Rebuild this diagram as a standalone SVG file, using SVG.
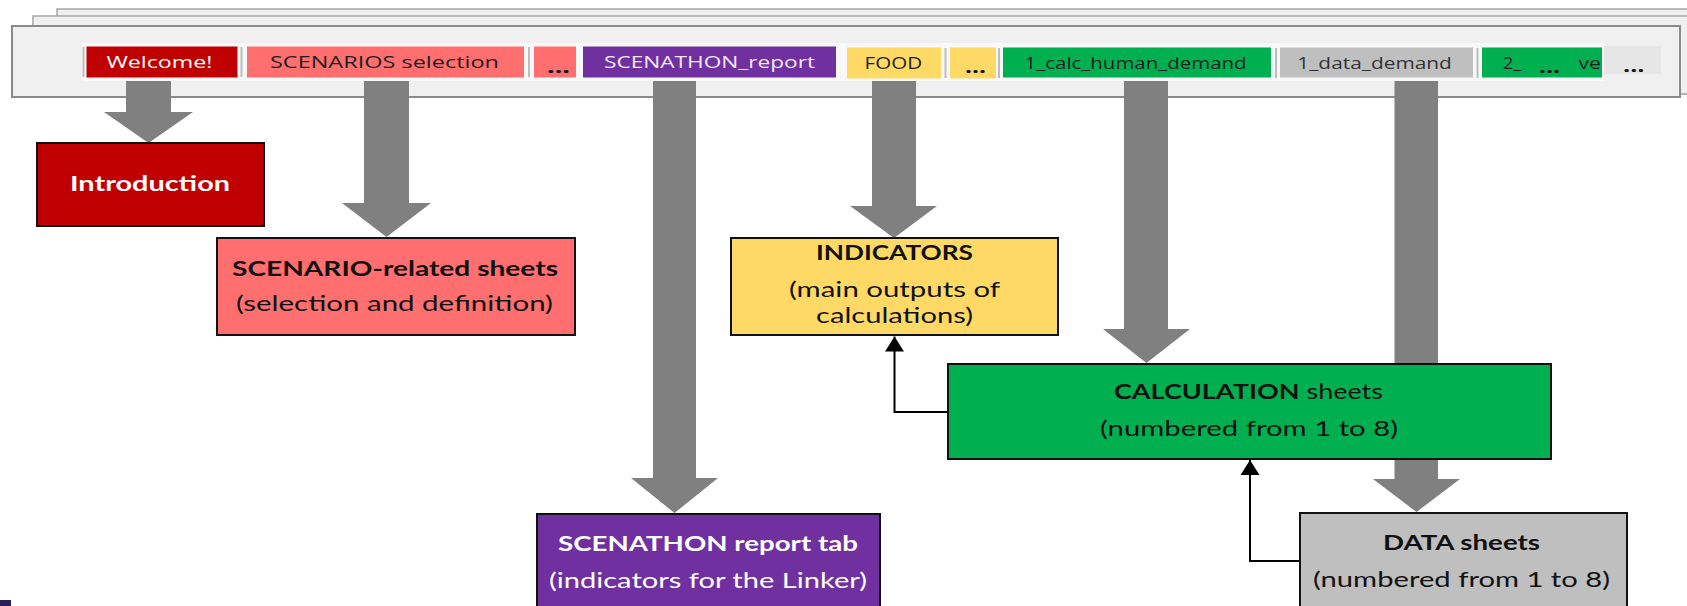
<svg xmlns="http://www.w3.org/2000/svg" width="1687" height="606" viewBox="0 0 1687 606">
<style>
.sheet{fill:#F0F0F0;stroke:#A6A6A6;stroke-width:1.5}
.win{fill:#F0F0F0;stroke:#8A8A8A;stroke-width:2}
.strip{fill:#F8F8F8}
.sep{stroke:#BDBDBD;stroke-width:2}
.tt{font-family:"Open Sans","DejaVu Sans",sans-serif;font-size:17px}
.dk{fill:#1E1E1E}
.wt{fill:#FFFFFF}
.dots{font-family:"Open Sans","DejaVu Sans",sans-serif;font-size:18px;font-weight:700;fill:#111111}
.blk{fill:#808080}
.box{stroke:#111111;stroke-width:2}
.bt{font-family:Lato,"Open Sans",sans-serif;font-size:21px;fill:#111111}
.b{font-weight:700}
.link{fill:none;stroke:#000000;stroke-width:2}
</style>
<defs>
<marker id="tri" viewBox="0 0 15 19" refX="15" refY="9.5" markerWidth="15" markerHeight="19" markerUnits="userSpaceOnUse" orient="auto">
<path d="M0,0 L15,9.5 L0,19 Z" fill="#000000"/>
</marker>
</defs>

<!-- workbook window with stacked sheets behind -->
<g id="workbook">
<rect class="sheet" x="57" y="9" width="1700" height="85"/>
<rect class="sheet" x="33" y="16" width="1700" height="78"/>
<rect class="win" x="12" y="26" width="1668" height="71"/>
<rect class="strip" x="82" y="43" width="1522" height="38"/>
</g>

<!-- sheet tabs -->
<g id="tabs">
<line class="sep" x1="83.5" y1="47" x2="83.5" y2="77"/>
<rect x="86.5" y="46.5" width="151" height="31" fill="#C00000"/>
<text class="tt wt" x="106.4" y="68" textLength="106" lengthAdjust="spacingAndGlyphs">Welcome!</text>
<line class="sep" x1="241.5" y1="47" x2="241.5" y2="77"/>
<rect x="247" y="46.5" width="277" height="31" fill="#FF6F6F"/>
<text class="tt dk" x="270" y="68" textLength="229" lengthAdjust="spacingAndGlyphs">SCENARIOS selection</text>
<line class="sep" x1="529" y1="47" x2="529" y2="77"/>
<rect x="534" y="46.5" width="42" height="31" fill="#FF6F6F"/>
<text class="dots" x="547" y="72.5" textLength="23" lengthAdjust="spacingAndGlyphs">...</text>
<rect x="583" y="46.5" width="253" height="31" fill="#7030A0"/>
<text class="tt" fill="#F3EAF8" x="604" y="68" textLength="211" lengthAdjust="spacingAndGlyphs">SCENATHON_report</text>
<rect x="847" y="47.5" width="94" height="31" fill="#FFD966"/>
<text class="tt dk" x="864.6" y="69" textLength="57.5" lengthAdjust="spacingAndGlyphs">FOOD</text>
<line class="sep" x1="945.5" y1="48" x2="945.5" y2="78"/>
<rect x="950" y="47.5" width="46" height="31" fill="#FFD966"/>
<text class="dots" x="965" y="72.5" textLength="21" lengthAdjust="spacingAndGlyphs">...</text>
<line class="sep" x1="999" y1="48" x2="999" y2="78"/>
<rect x="1003" y="47.5" width="268" height="30" fill="#00B050"/>
<text class="tt dk" x="1024.6" y="68.5" textLength="222" lengthAdjust="spacingAndGlyphs">1_calc_human_demand</text>
<line class="sep" x1="1276" y1="48" x2="1276" y2="78"/>
<rect x="1280" y="47.5" width="193" height="30" fill="#BFBFBF"/>
<text class="tt" fill="#333333" x="1297.3" y="68.5" textLength="154.6" lengthAdjust="spacingAndGlyphs">1_data_demand</text>
<line class="sep" x1="1477.5" y1="48" x2="1477.5" y2="78"/>
<rect x="1482" y="47.5" width="120" height="30" fill="#00B050"/>
<text class="tt dk" x="1503" y="68.5" textLength="18" lengthAdjust="spacingAndGlyphs">2_</text>
<text class="dots" x="1539" y="72.5" textLength="21" lengthAdjust="spacingAndGlyphs">...</text>
<text class="tt dk" x="1578.5" y="68.5" textLength="22.5" lengthAdjust="spacingAndGlyphs">ve</text>
<rect x="1604" y="46" width="57" height="28" fill="#E6E6E6"/>
<text class="dots" x="1623" y="72" textLength="21.5" lengthAdjust="spacingAndGlyphs">...</text>
</g>

<!-- connectors: block arrows from tabs, thin arrows between boxes -->
<g id="connectors">
<path class="blk" d="M126,81 H171 V112 H193 L148.5,143 L104,112 H126 Z"/>
<path class="blk" d="M364,81 H409 V203 H431 L386.5,237 L342,203 H364 Z"/>
<path class="blk" d="M653,81 H696 V478 H718 L674.5,513 L631,478 H653 Z"/>
<path class="blk" d="M872,81 H916 V206 H937 L894,238 L850,206 H872 Z"/>
<path class="blk" d="M1124,81 H1168 V329 H1190 L1146.5,363 L1103,329 H1124 Z"/>
<path class="blk" d="M1394.5,81 H1438 V479 H1460 L1416.5,512 L1373,479 H1394.5 Z"/>
<path class="link" d="M948,412 H894.5 V336.5" marker-end="url(#tri)"/>
<path class="link" d="M1300,561 H1250 V460" marker-end="url(#tri)"/>
</g>

<g id="introduction">
<rect class="box" x="37" y="143" width="227" height="83" fill="#C00000"/>
<text class="bt b" fill="#FFFFFF" style="fill:#FFFFFF;font-size:20px" x="70" y="191" textLength="160" lengthAdjust="spacingAndGlyphs">Introduction</text>
</g>

<g id="scenario-sheets">
<rect class="box" x="217" y="238" width="358" height="97" fill="#FF6F6F"/>
<text class="bt b" x="232" y="276" textLength="326" lengthAdjust="spacingAndGlyphs">SCENARIO-related sheets</text>
<text class="bt" x="236" y="311" textLength="317" lengthAdjust="spacingAndGlyphs">(selection and definition)</text>
</g>

<g id="indicators">
<rect class="box" x="731" y="238" width="327" height="97" fill="#FFD966"/>
<text class="bt b" x="816" y="260" textLength="157" lengthAdjust="spacingAndGlyphs">INDICATORS</text>
<text class="bt" x="789" y="297" textLength="211" lengthAdjust="spacingAndGlyphs">(main outputs of</text>
<text class="bt" x="816" y="323" textLength="157" lengthAdjust="spacingAndGlyphs">calculations)</text>
</g>

<g id="calculation-sheets">
<rect class="box" x="948" y="364" width="603" height="95" fill="#00B050"/>
<text class="bt" x="1114" y="399" textLength="269" lengthAdjust="spacingAndGlyphs"><tspan class="b">CALCULATION</tspan> sheets</text>
<text class="bt" x="1100" y="436" textLength="298" lengthAdjust="spacingAndGlyphs">(numbered from 1 to 8)</text>
</g>

<g id="scenathon-report">
<rect class="box" x="537" y="514" width="343" height="100" fill="#7030A0"/>
<text class="bt b" style="fill:#FFFFFF" x="558" y="551" textLength="300" lengthAdjust="spacingAndGlyphs">SCENATHON report tab</text>
<text class="bt" style="fill:#FFFFFF" x="549" y="588" textLength="318" lengthAdjust="spacingAndGlyphs">(indicators for the Linker)</text>
</g>

<g id="data-sheets">
<rect class="box" x="1300" y="513" width="327" height="100" fill="#BFBFBF"/>
<text class="bt b" x="1383" y="550" textLength="157" lengthAdjust="spacingAndGlyphs">DATA sheets</text>
<text class="bt" x="1313" y="587" textLength="297" lengthAdjust="spacingAndGlyphs">(numbered from 1 to 8)</text>
</g>

<rect x="0" y="600" width="11" height="6" fill="#2A1E5C"/>
</svg>
